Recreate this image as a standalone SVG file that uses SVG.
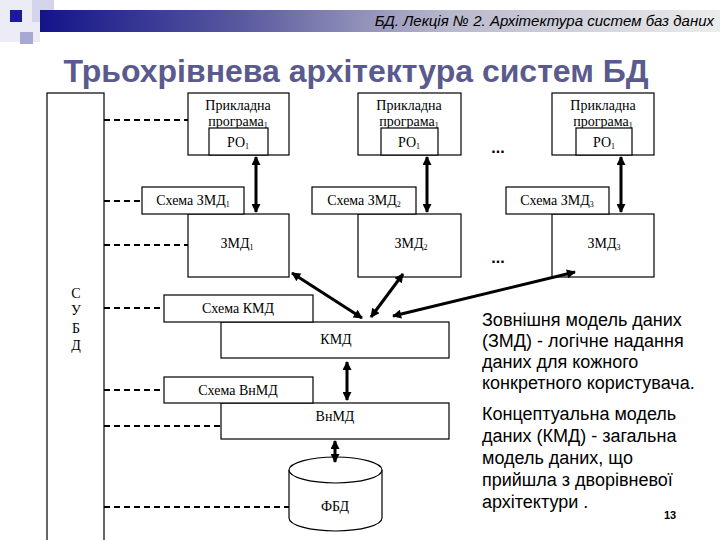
<svg xmlns="http://www.w3.org/2000/svg" width="720" height="540" viewBox="0 0 720 540">
<defs>
<linearGradient id="hdr" x1="0" y1="0" x2="1" y2="0">
<stop offset="0" stop-color="#14148a"/>
<stop offset="0.3" stop-color="#5a5aa0"/>
<stop offset="0.6" stop-color="#b8b8cc"/>
<stop offset="1" stop-color="#ececec"/>
</linearGradient>
<marker id="ah" viewBox="0 0 10 10" refX="9" refY="5" markerWidth="10" markerHeight="9" markerUnits="userSpaceOnUse" orient="auto-start-reverse">
<path d="M0,0 L10,5 L0,10 z" fill="#000"/>
</marker>
<style>
.box{fill:#fff;stroke:#000;stroke-width:1.2}
.t{font-family:"Liberation Serif","Times New Roman",serif;font-size:14px;fill:#000;text-anchor:middle}
.dash{stroke:#000;stroke-width:2.2;stroke-dasharray:6,4;fill:none}
.arr{stroke:#000;stroke-width:3;fill:none;marker-start:url(#ah);marker-end:url(#ah)}
.r{font-family:"Liberation Sans",Arial,sans-serif;font-size:18px;fill:#000}
</style>
</defs>
<rect width="720" height="540" fill="#fff"/>
<g id="header">
<rect x="0" y="0" width="40" height="42" fill="#ececf6"/>
<rect x="32" y="0" width="22" height="22" fill="#d4d4ec"/>
<rect x="20" y="32" width="13" height="12" fill="#a8a8d4"/>
<rect x="40" y="10" width="680" height="22" fill="url(#hdr)"/>
<rect x="10" y="10" width="12" height="12" fill="#1a1a9c"/>
<text x="714" y="26" text-anchor="end" font-family="Liberation Sans,Arial,sans-serif" font-style="italic" font-size="15" fill="#000">БД. Лекція № 2. Архітектура систем баз даних</text>
</g>
<text id="title" x="356" y="82" text-anchor="middle" font-family="Liberation Sans,Arial,sans-serif" font-weight="bold" font-size="32" fill="#5a5a8e">Трьохрівнева архітектура систем БД</text>

<g id="subd">
<rect x="47" y="93" width="57" height="460" class="box"/>
<text class="t" x="76" y="298">С</text>
<text class="t" x="76" y="315">У</text>
<text class="t" x="76" y="333">Б</text>
<text class="t" x="76" y="350">Д</text>
</g>

<g id="app1">
<rect x="188" y="93" width="101" height="62" class="box"/>
<text class="t" x="238" y="110">Прикладна</text>
<text class="t" x="238" y="126">програма<tspan font-size="8" dy="2">1</tspan></text>
<rect x="209" y="128" width="59" height="27" class="box"/>
<text class="t" x="238" y="147">РО<tspan font-size="8" dy="2">1</tspan></text>
</g>
<g id="app2">
<rect x="358" y="93" width="103" height="62" class="box"/>
<text class="t" x="409" y="110">Прикладна</text>
<text class="t" x="409" y="126">програма<tspan font-size="8" dy="2">1</tspan></text>
<rect x="381" y="128" width="57" height="27" class="box"/>
<text class="t" x="409" y="147">РО<tspan font-size="8" dy="2">1</tspan></text>
</g>
<g id="app3">
<rect x="552" y="93" width="102" height="62" class="box"/>
<text class="t" x="603" y="110">Прикладна</text>
<text class="t" x="603" y="126">програма<tspan font-size="8" dy="2">1</tspan></text>
<rect x="576" y="128" width="56" height="27" class="box"/>
<text class="t" x="604" y="147">РО<tspan font-size="8" dy="2">1</tspan></text>
</g>

<g id="zmd1">
<rect x="188" y="214" width="101" height="63" class="box"/>
<text class="t" x="237" y="248">ЗМД<tspan font-size="8" dy="2">1</tspan></text>
</g>
<g id="schema-zmd1">
<rect x="142" y="187" width="102" height="27" class="box"/>
<text class="t" x="193" y="205">Схема ЗМД<tspan font-size="8" dy="2">1</tspan></text>
</g>
<g id="zmd2">
<rect x="358" y="214" width="103" height="63" class="box"/>
<text class="t" x="411" y="248">ЗМД<tspan font-size="8" dy="2">2</tspan></text>
</g>
<g id="schema-zmd2">
<rect x="312" y="187" width="104" height="27" class="box"/>
<text class="t" x="364" y="205">Схема ЗМД<tspan font-size="8" dy="2">2</tspan></text>
</g>
<g id="zmd3">
<rect x="552" y="214" width="102" height="63" class="box"/>
<text class="t" x="604" y="248">ЗМД<tspan font-size="8" dy="2">3</tspan></text>
</g>
<g id="schema-zmd3">
<rect x="506" y="187" width="103" height="27" class="box"/>
<text class="t" x="557" y="205">Схема ЗМД<tspan font-size="8" dy="2">3</tspan></text>
</g>

<g id="dots">
<text x="498" y="153" text-anchor="middle" font-family="Liberation Sans,Arial,sans-serif" font-weight="bold" font-size="16">...</text>
<text x="498" y="263" text-anchor="middle" font-family="Liberation Sans,Arial,sans-serif" font-weight="bold" font-size="16">...</text>
</g>

<g id="kmd">
<rect x="221" y="322" width="228" height="36" class="box"/>
<text class="t" x="336" y="344">КМД</text>
</g>
<g id="schema-kmd">
<rect x="164" y="295" width="149" height="27" class="box"/>
<text class="t" x="238" y="313">Схема КМД</text>
</g>
<g id="vnmd">
<rect x="221" y="403" width="228" height="36" class="box"/>
<text class="t" x="335" y="421">ВнМД</text>
</g>
<g id="schema-vnmd">
<rect x="164" y="377" width="149" height="26" class="box"/>
<text class="t" x="238" y="395">Схема ВнМД</text>
</g>

<g id="fbd">
<path d="M289,470 L289,518 A46.5,13 0 0 0 382,518 L382,470" class="box"/>
<ellipse cx="335.5" cy="470" rx="46.5" ry="13" class="box"/>
<text class="t" x="335" y="511">ФБД</text>
</g>

<g id="connectors">
<line class="dash" x1="104" y1="120" x2="188" y2="120"/>
<line class="dash" x1="104" y1="201" x2="142" y2="201"/>
<line class="dash" x1="104" y1="245" x2="188" y2="245"/>
<line class="dash" x1="104" y1="308" x2="164" y2="308"/>
<line class="dash" x1="104" y1="390" x2="164" y2="390"/>
<line class="dash" x1="104" y1="426" x2="221" y2="426"/>
<line class="dash" x1="104" y1="507" x2="289" y2="507"/>
<line class="arr" x1="256" y1="157" x2="256" y2="212"/>
<line class="arr" x1="427" y1="157" x2="427" y2="212"/>
<line class="arr" x1="621" y1="157" x2="621" y2="212"/>
<line class="arr" x1="292" y1="273" x2="362" y2="318"/>
<line class="arr" x1="403" y1="274" x2="371" y2="317"/>
<line class="arr" x1="575" y1="272" x2="393" y2="316"/>
<line class="arr" x1="347" y1="362" x2="347" y2="400"/>
<line class="arr" x1="335" y1="441" x2="335" y2="462"/>
</g>

<g id="notes">
<text class="r" x="482" y="326">Зовнішня модель даних</text>
<text class="r" x="482" y="347">(ЗМД) - логічне надання</text>
<text class="r" x="482" y="368">даних для кожного</text>
<text class="r" x="482" y="389">конкретного користувача.</text>
<text class="r" x="482" y="420">Концептуальна модель</text>
<text class="r" x="482" y="442">даних (КМД) - загальна</text>
<text class="r" x="482" y="464">модель даних, що</text>
<text class="r" x="482" y="486">прийшла з дворівневої</text>
<text class="r" x="482" y="508">архітектури .</text>
<text x="670" y="519" text-anchor="middle" font-family="Liberation Sans,Arial,sans-serif" font-weight="bold" font-size="11">13</text>
</g>
</svg>
